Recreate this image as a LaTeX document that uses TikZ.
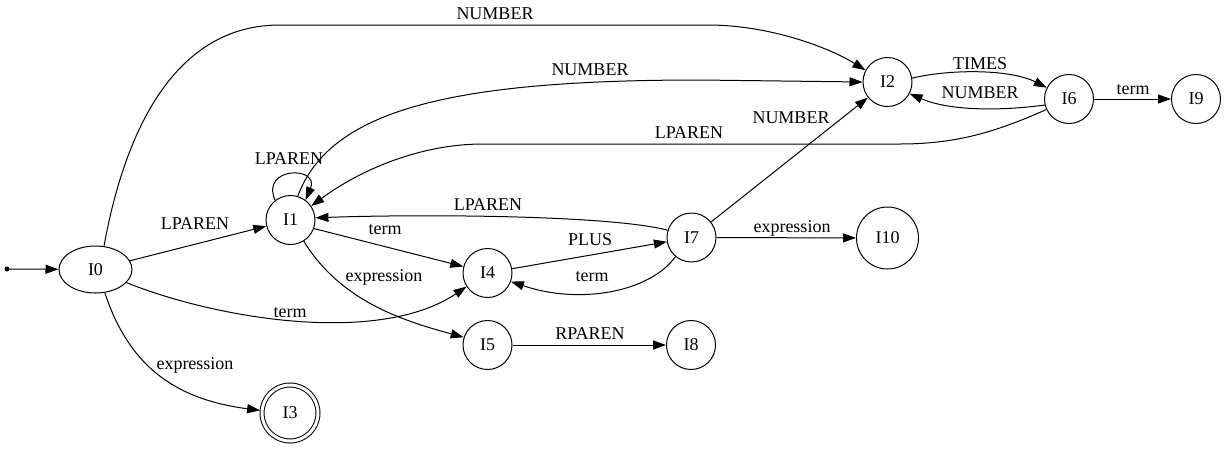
\documentclass[tikz,border=0pt]{standalone}
\usepackage{fontspec}
\setmainfont{Liberation Serif}
\newfontfamily\gvfont{Liberation Serif}
\usetikzlibrary{arrows.meta,shapes.geometric}
\begin{document}
\begin{tikzpicture}[x=1pt,y=-1pt,
  every node/.style={font=\gvfont\fontsize{18}{20}\selectfont},
  st/.style={draw,circle,line width=1pt,minimum size=49pt,inner sep=0pt},
  big/.style={st,minimum size=62pt},
  ell/.style={draw,ellipse,line width=1pt,minimum width=73pt,minimum height=47pt,inner sep=0pt},
  acc/.style={draw,circle,double,double distance=3pt,line width=1pt,minimum size=56pt,inner sep=0pt,outer sep=2pt},
  edge/.style={line width=1pt,-{Triangle[length=13pt,width=9pt]}},
  lbl/.style={inner sep=0pt}]
\useasboundingbox (0,0) rectangle (1228,448);
\fill (7,269) circle (2.5pt) coordinate (S);
\node[ell] (I0) at (95.5,269.5) {I0};
\node[st] (I1) at (290.5,220) {I1};
\node[st] (I2) at (887.5,82) {I2};
\node[acc] (I3) at (290,413) {I3};
\node[st] (I4) at (487.5,273) {I4};
\node[st] (I5) at (487.5,345) {I5};
\node[st] (I6) at (1069,99) {I6};
\node[st] (I7) at (691.5,237.5) {I7};
\node[st] (I8) at (691,345) {I8};
\node[st] (I9) at (1196,99) {I9};
\node[big] (I10) at (887.5,238) {I10};
% edges
\draw[edge] (S) -- (I0);
\draw[edge] (I0.70) .. controls (125,130) and (175,25) .. (280,25) -- (708,25) .. controls (770,25) and (830,48) .. (I2.152)
  node[lbl] at (495,14) {NUMBER};
\draw[edge] (I1.73) .. controls (330,110) and (450,80) .. (700,80) -- (I2.180)
  node[lbl] at (590,70) {NUMBER};
\draw[edge] (I6.205) .. controls (1000,130) and (960,144) .. (900,144) -- (483,144) .. controls (420,144) and (360,170) .. (I1.34)
  node[lbl] at (689,133) {LPAREN};
\draw[edge] (I2.9) .. controls (950,69) and (1010,69) .. (I6.153)
  node[lbl] at (980,64) {TIMES};
\draw[edge] (I6.194) .. controls (1000,111) and (950,111) .. (I2.-28)
  node[lbl] at (980,93) {NUMBER};
\draw[edge] (I6) -- (I9) node[lbl] at (1133,90) {term};
\draw[edge] (I7) -- (I2) node[lbl] at (791,118) {NUMBER};
\draw[edge] (I7.163) .. controls (610,215) and (420,214) .. (I1.5)
  node[lbl] at (488,205) {LPAREN};
\draw[edge] (I0) -- (I1) node[lbl] at (195,224) {LPAREN};
\draw[edge] (I1.128) .. controls (260,166) and (320,166) .. (I1.53)
  node[lbl] at (289,159) {LPAREN};
\draw[edge] (I1.-20) -- (I4.165) node[lbl] at (385,230) {term};
\draw[edge] (I1.-58) .. controls (340,300) and (400,320) .. (I5.162)
  node[lbl] at (384,277) {expression};
\draw[edge] (I0.-23) .. controls (220,320) and (380,345) .. (I4.213)
  node[lbl] at (290,313) {term};
\draw[edge] (I0.-68) .. controls (130,370) and (180,400) .. (I3.175)
  node[lbl] at (195,365) {expression};
\draw[edge] (I4) -- (I7) node[lbl] at (590,240) {PLUS};
\draw[edge] (I7.-130) .. controls (650,292) and (580,305) .. (I4.-20)
  node[lbl] at (592,277) {term};
\draw[edge] (I7) -- (I10) node[lbl] at (792,228) {expression};
\draw[edge] (I5) -- (I8) node[lbl] at (590,334) {RPAREN};
\end{tikzpicture}
\end{document}
